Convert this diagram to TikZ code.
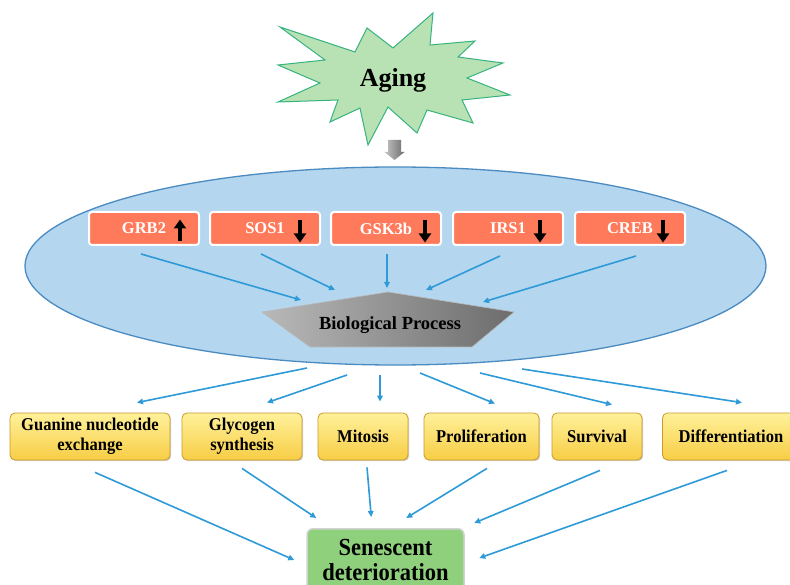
\documentclass[tikz,border=0pt]{standalone}
\usepackage{fontspec}
\setmainfont{Liberation Serif}
\newfontfamily\condfont{Liberation Serif}[FakeStretch=0.92]
\usetikzlibrary{arrows.meta,calc,shapes.geometric,shadows}
\definecolor{starfill}{HTML}{B9E2B4}
\definecolor{starline}{HTML}{36B37E}
\definecolor{ellfill}{HTML}{B4D6EE}
\definecolor{ellline}{HTML}{4A8BC2}
\definecolor{genefill}{HTML}{FF7A5A}
\definecolor{arrblue}{HTML}{2E9AD8}
\definecolor{ytop}{HTML}{FFF19A}
\definecolor{ybot}{HTML}{F7CD45}
\definecolor{yline}{HTML}{C99A2A}
\definecolor{senfill}{HTML}{8FD07C}
\tikzset{
  bluearr/.style={draw=arrblue, line width=1.6pt, -{Triangle[length=6pt,width=5.5pt]}},
  genebox/.style={rectangle, rounded corners=3pt, draw=white, line width=2pt, fill=genefill,
    minimum width=110pt, minimum height=33pt, inner sep=0pt, text=white,
    font=\bfseries\fontsize{16.5}{18}\selectfont},
  procbox/.style={rectangle, rounded corners=5pt, draw=yline, line width=0.8pt,
    top color=ytop, bottom color=ybot, minimum height=47pt, inner sep=0pt, align=center,
    font=\condfont\bfseries\fontsize{18}{20}\selectfont,
    drop shadow={shadow xshift=1.2pt, shadow yshift=-1.2pt, opacity=0.35}},
  blkarr/.style={line width=3.6pt, black, -{Triangle[length=9pt,width=12pt]}},
}
\begin{document}
\begin{tikzpicture}[x=1pt,y=-1pt]
\clip (0,0) rectangle (790,585);
\fill[white] (0,0) rectangle (790,585);
% starburst
\draw[draw=starline, fill=starfill, line width=1pt, line join=miter]
  (280,27) -- (355,52) -- (367,28) -- (393,48) -- (433,13) -- (430,45) -- (475,41)
  -- (458,57) -- (503,63) -- (467,78) -- (510,95) -- (462,100) -- (473,123)
  -- (427,110) -- (417,133) -- (388,107) -- (368,145) -- (360,108) -- (330,122)
  -- (338,100) -- (278,102) -- (320,83) -- (278,65) -- (325,60) -- cycle;
\node[font=\bfseries\fontsize{26}{28}\selectfont] (aging) at (393,80) {Aging};
% gray block arrow
\shade[left color=gray!45, right color=gray!85!black]
  (388,140) -- (401,140) -- (401,152) -- (404.5,152) -- (394.5,160) -- (384.5,152) -- (388,152) -- cycle;
% ellipse
\node[ellipse, draw=ellline, fill=ellfill, line width=1.3pt, minimum width=741pt,
  minimum height=198pt, inner sep=0pt] (cell) at (395.5,266) {};
% gene boxes
\node[genebox] (grb2) at (144,228.5) {GRB2};
\node[genebox] (sos1) at (265,228.5) {SOS1};
\node[genebox] (gsk) at (386,228.5) {GSK3b};
\node[genebox] (irs1) at (508,228.5) {IRS1};
\node[genebox] (creb) at (630,228.5) {CREB};
\draw[blkarr] ($(grb2.center)+(36,13)$) -- ++(0,-22);
\draw[blkarr] ($(sos1.center)+(35,-8)$) -- ++(0,22);
\draw[blkarr] ($(gsk.center)+(39,-8)$) -- ++(0,22);
\draw[blkarr] ($(irs1.center)+(32,-8)$) -- ++(0,22);
\draw[blkarr] ($(creb.center)+(33,-8)$) -- ++(0,22);
% pentagon
\path[draw=gray!55, line width=0.6pt, left color=gray!55, right color=gray!85!black]
  (388,292) -- (514,312) -- (472,347) -- (310,347) -- (262,312) -- cycle;
\node[font=\bfseries\fontsize{18.5}{20}\selectfont] (bp) at (390,325) {Biological Process};
\coordinate (t1) at (301,300);
\coordinate (t2) at (335,290);
\coordinate (t3) at (387,288);
\coordinate (t4) at (426,290);
\coordinate (t5) at (483,302);
\draw[bluearr] ([shift={(-3,8)}]grb2.south) -- (t1);
\draw[bluearr] ([shift={(-4,8)}]sos1.south) -- (t2);
\draw[bluearr] ([shift={(1,8)}]gsk.south) -- (t3);
\draw[bluearr] ([shift={(-8,10)}]irs1.south) -- (t4);
\draw[bluearr] ([shift={(6,10)}]creb.south) -- (t5);
% process boxes
\node[procbox, minimum width=160pt] (guan) at (90,436.5) {Guanine nucleotide\\exchange};
\node[procbox, minimum width=120pt] (glyc) at (242,436.5) {Glycogen\\synthesis};
\node[procbox, minimum width=90pt] (mito) at (363,436.5) {Mitosis};
\node[procbox, minimum width=115pt] (prol) at (481.5,436.5) {Proliferation};
\node[procbox, minimum width=90pt] (surv) at (597,436.5) {Survival};
\node[procbox, minimum width=137pt] (diff) at (731,436.5) {Differentiation};
\coordinate (s1) at (307,368);
\coordinate (s2) at (347,375);
\coordinate (s3) at (380,375);
\coordinate (s4) at (420,373);
\coordinate (s5) at (480,373);
\coordinate (s6) at (522,369);
\draw[bluearr] (s1) -- ([shift={(47,-10)}]guan.north);
\draw[bluearr] (s2) -- ([shift={(25,-10)}]glyc.north);
\draw[bluearr] (s3) -- ([shift={(17,-11)}]mito.north);
\draw[bluearr] (s4) -- ([shift={(13.5,-9)}]prol.north);
\draw[bluearr] (s5) -- ([shift={(15,-8)}]surv.north);
\draw[bluearr] (s6) -- ([shift={(11,-10)}]diff.north);
% senescent box
\node[rectangle, rounded corners=6pt, draw=gray!35, line width=1.5pt, fill=senfill,
  minimum width=157pt, inner xsep=0pt, inner ysep=10.5pt, anchor=north, align=center,
  font=\condfont\bfseries\fontsize{24.5}{25}\selectfont] (sen) at (385.5,528)
  {Senescent\\deterioration};
\coordinate (e1) at ([shift={(-12,32)}]sen.north west);
\coordinate (e2) at ([shift={(10,-10)}]sen.north west);
\coordinate (e3) at ([shift={(65,-11)}]sen.north west);
\coordinate (e4) at ([shift={(100,-10)}]sen.north west);
\coordinate (e5) at ([shift={(168,-5)}]sen.north west);
\coordinate (e6) at ([shift={(173,30)}]sen.north west);
\draw[bluearr] ([shift={(5,12)}]guan.south) -- (e1);
\draw[bluearr] ([shift={(0,8)}]glyc.south) -- (e2);
\draw[bluearr] ([shift={(4,7)}]mito.south) -- (e3);
\draw[bluearr] ([shift={(5.5,8)}]prol.south) -- (e4);
\draw[bluearr] ([shift={(3,10)}]surv.south) -- (e5);
\draw[bluearr] ([shift={(-4,10)}]diff.south) -- (e6);
\end{tikzpicture}
\end{document}
